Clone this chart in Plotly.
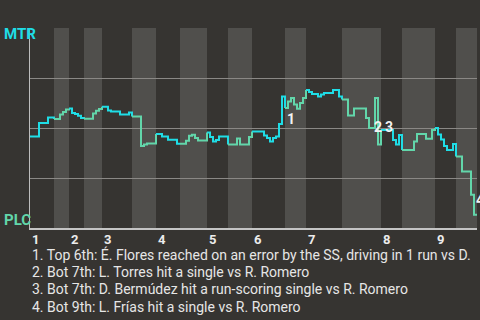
import plotly.graph_objects as go

# Win probability for MTR after each game event (event index, probability)
event_idx = [
    0, 3, 6,
    8, 10, 11, 12,
    13, 14, 15, 16, 17,
    18, 21, 22, 23,
    24, 26, 27, 30, 33,
    34, 37, 38, 39,
    42, 44, 46, 49,
    52, 53, 54, 55, 56,
    59, 60, 61, 62, 63,
    66, 69, 70, 73,
    74, 78, 79, 80, 81, 82, 83, 84,
    85, 86, 87, 88, 89, 90, 91,
    92, 93, 94, 96, 97, 98, 101, 103,
    104, 106, 108, 112, 113, 115, 116,
    117, 121, 122, 123,
    124, 128, 129, 132, 134,
    135, 136, 137, 138, 139, 141,
    142, 144, 147, 148,
]
mtr_wp = [
    0.458, 0.525, 0.553,
    0.545, 0.567, 0.580, 0.592,
    0.597, 0.575, 0.570, 0.561, 0.550,
    0.546, 0.572, 0.586, 0.595,
    0.606, 0.588, 0.583, 0.567, 0.577,
    0.558, 0.410, 0.418, 0.422,
    0.470, 0.458, 0.441, 0.421,
    0.436, 0.461, 0.466, 0.450, 0.438,
    0.478, 0.455, 0.433, 0.440, 0.458,
    0.417, 0.447, 0.417, 0.455,
    0.483, 0.463, 0.450, 0.433, 0.450, 0.458, 0.520, 0.658,
    0.600, 0.633, 0.650, 0.617, 0.596, 0.625, 0.650,
    0.690, 0.680, 0.670, 0.658, 0.667, 0.675, 0.690, 0.658,
    0.642, 0.563, 0.597, 0.550, 0.500, 0.650, 0.417,
    0.490, 0.440, 0.417, 0.465,
    0.390, 0.433, 0.470, 0.446, 0.490,
    0.500, 0.467, 0.443, 0.410, 0.390, 0.420,
    0.358, 0.283, 0.166, 0.066,
]
game_end = 149

# First event index of each half-inning (top 1, bot 1, top 2, ...)
half_starts = [0, 8, 13, 18, 24, 34, 42, 50, 59, 66, 74, 85, 92, 104, 117, 124, 135, 142]
innings = ["1", "2", "3", "4", "5", "6", "7", "8", "9"]

# Key plays
key_idx = [84, 113, 117, 147]
key_labels = ["1", "2", "3", "4"]
key_notes = [
    "1. Top 6th: É. Flores reached on an error by the SS, driving in 1 run vs D.",
    "2. Bot 7th: L. Torres hit a single vs R. Romero",
    "3. Bot 7th: D. Bermúdez hit a run-scoring single vs R. Romero",
    "4. Bot 9th: L. Frías hit a single vs R. Romero",
]
teams = ["MTR", "PLC"]

BG = "#363431"
BAND = "#504f4c"
CYAN = "#1fdde6"
GREEN = "#62d6aa"
FONT = "Roboto"
NARROW = "Liberation Sans Narrow, Roboto"


def wp_at(u):
    val = mtr_wp[0]
    for i, v in zip(event_idx, mtr_wp):
        if i <= u:
            val = v
    return val


fig = go.Figure()

bounds = half_starts + [game_end]
for h in range(len(half_starts)):
    s, e = bounds[h], bounds[h + 1]
    xs = [i for i in event_idx if s <= i < e]
    ys = [v for i, v in zip(event_idx, mtr_wp) if s <= i < e]
    if not xs or xs[0] != s:
        xs.insert(0, s)
        ys.insert(0, wp_at(s))
    xs.append(e)
    ys.append(wp_at(e))
    fig.add_trace(go.Scatter(
        x=xs, y=ys, mode="lines", line_shape="hv",
        line=dict(color=CYAN if h % 2 == 0 else GREEN, width=2),
        hoverinfo="skip", showlegend=False,
    ))
    # shaded bottom halves
    if h % 2 == 1:
        fig.add_shape(type="rect", xref="x", yref="paper", x0=s, x1=e, y0=0, y1=1,
                      fillcolor=BAND, line_width=0, layer="below")

# inning numbers
for k, lab in enumerate(innings):
    fig.add_annotation(x=half_starts[2 * k], y=0, xref="x", yref="paper",
                       text=lab, showarrow=False, xanchor="left", yanchor="top",
                       xshift=0, yshift=-2,
                       font=dict(family=FONT, size=13, color="#ececec", weight="bold"))

# key play markers
shifts = [(3, -23), (3, 1), (2, 3), (3, -5)]
for (u, lab), (dx, dy) in zip(zip(key_idx, key_labels), shifts):
    fig.add_annotation(x=u, y=wp_at(u), xref="x", yref="y", text=lab,
                       showarrow=False, xanchor="left", yanchor="middle",
                       xshift=dx, yshift=dy,
                       font=dict(family=FONT, size=14, color="#f2f2f2", weight="bold"))

# notes under the chart
for k, note in enumerate(key_notes):
    fig.add_annotation(x=0, y=0, xref="paper", yref="paper", text=note,
                       showarrow=False, xanchor="left", yanchor="middle",
                       xshift=0, yshift=-26 - 17.6 * k,
                       font=dict(family=FONT, size=14, color="#e6e6e6"))

# team labels
fig.add_annotation(x=0, y=1, xref="paper", yref="paper", text=teams[0],
                   showarrow=False, xanchor="left", yanchor="middle",
                   xshift=-28, yshift=-6,
                   font=dict(family=NARROW, size=15, color=CYAN, weight="bold"))
fig.add_annotation(x=0, y=0, xref="paper", yref="paper", text=teams[1],
                   showarrow=False, xanchor="left", yanchor="middle",
                   xshift=-28, yshift=8,
                   font=dict(family=NARROW, size=15, color=GREEN, weight="bold"))

fig.update_layout(
    width=480, height=320,
    margin=dict(l=30, r=3, t=28, b=92),
    paper_bgcolor=BG, plot_bgcolor=BG,
    xaxis=dict(range=[0, game_end], showgrid=False, zeroline=False,
               showticklabels=False, ticks="", showline=True,
               linecolor="#c4c4c4", linewidth=2),
    yaxis=dict(range=[0, 1], tickvals=[0.25, 0.5, 0.75, 1.0], showticklabels=False,
               ticks="", gridcolor="#8a8885", gridwidth=1, zeroline=False,
               showline=True, linecolor="#bdbdbd", linewidth=1),
)

fig.write_html("out.html")
